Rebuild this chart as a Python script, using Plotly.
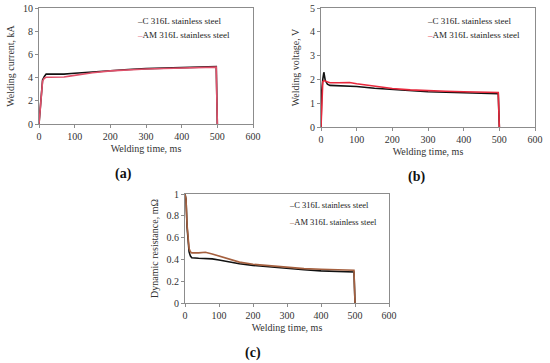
import plotly.graph_objects as go

# ---------------- data ----------------
# (a) welding current, kA
t_current = [0, 3, 6, 10, 15, 20, 30, 50, 70, 90, 120, 150, 200, 250, 300, 350, 400, 450, 497, 500]
current_C = [0, 1.2, 2.8, 3.8, 4.1, 4.3, 4.3, 4.28, 4.3, 4.35, 4.42, 4.5, 4.62, 4.7, 4.77, 4.83, 4.88, 4.92, 4.95, 0]
current_AM = [0, 1.2, 2.8, 3.7, 3.95, 4.03, 4.03, 4.03, 4.05, 4.15, 4.3, 4.42, 4.58, 4.67, 4.74, 4.78, 4.82, 4.86, 4.9, 0]

# (b) welding voltage, V
t_voltage = [0, 2, 5, 8, 12, 18, 25, 50, 80, 100, 150, 200, 250, 300, 350, 400, 450, 497, 500]
voltage_C = [0, 1.5, 2.0, 2.3, 1.95, 1.8, 1.75, 1.73, 1.72, 1.7, 1.63, 1.57, 1.52, 1.48, 1.46, 1.44, 1.42, 1.4, 0]
voltage_AM = [0, 1.3, 1.9, 1.95, 1.93, 1.88, 1.86, 1.86, 1.87, 1.82, 1.72, 1.62, 1.56, 1.52, 1.5, 1.48, 1.47, 1.45, 0]

# (c) dynamic resistance, mOhm
t_resist = [0, 3, 6, 9, 12, 16, 20, 40, 60, 80, 100, 130, 160, 200, 250, 300, 350, 400, 450, 497, 500]
resist_C = [1.0, 0.95, 0.7, 0.55, 0.47, 0.43, 0.415, 0.41, 0.41, 0.405, 0.395, 0.375, 0.36, 0.345, 0.33, 0.315, 0.305, 0.295, 0.29, 0.285, 0]
resist_AM = [1.0, 0.95, 0.72, 0.58, 0.5, 0.47, 0.46, 0.46, 0.465, 0.45, 0.43, 0.4, 0.375, 0.355, 0.34, 0.325, 0.315, 0.31, 0.305, 0.3, 0]

series_names = ["C 316L stainless steel", "AM 316L stainless steel"]
x_ticks = [0, 100, 200, 300, 400, 500, 600]
y_ticks_a = [0, 2, 4, 6, 8, 10]
y_ticks_b = [0, 1, 2, 3, 4, 5]
y_ticks_c = [0, 0.2, 0.4, 0.6, 0.8, 1]

# ---------------- figure ----------------
W, H = 550, 363
SERIF = "Liberation Serif"
AXC = "#8c8c8c"

red_a = "#e0506a"
red_b = "#e8283c"
brown_c = "#a5603f"

fig = go.Figure()
panels = [
    ("x", "y", t_current, current_C, current_AM, red_a),
    ("x2", "y2", t_voltage, voltage_C, voltage_AM, red_b),
    ("x3", "y3", t_resist, resist_C, resist_AM, brown_c),
]
for xa, ya, t, c, am, col in panels:
    fig.add_trace(go.Scatter(x=t, y=c, mode="lines", name=series_names[0], xaxis=xa, yaxis=ya,
                             line=dict(color="#111111", width=1.6), showlegend=False))
    fig.add_trace(go.Scatter(x=t, y=am, mode="lines", name=series_names[1], xaxis=xa, yaxis=ya,
                             line=dict(color=col, width=1.6), showlegend=False))


def px_x(p):
    return p / W


def px_y(p):
    return 1 - p / H


def xaxis(dom, title, standoff, anchor):
    return dict(domain=dom, range=[0, 600], tickvals=x_ticks, showgrid=False, zeroline=False,
                anchor=anchor, automargin=False,
                showline=True, linecolor=AXC, linewidth=1, mirror=True,
                ticks="outside", ticklen=3, tickcolor=AXC,
                tickfont=dict(family=SERIF, size=10, color="#333"),
                title=dict(text=title, font=dict(family=SERIF, size=10, color="#333"), standoff=standoff))


def yaxis(dom, rng, tv, title, standoff, anchor):
    return dict(domain=dom, range=rng, tickvals=tv, showgrid=False, zeroline=False, anchor=anchor,
                automargin=False,
                showline=True, linecolor=AXC, linewidth=1, mirror=True,
                ticks="outside", ticklen=3, tickcolor=AXC,
                tickfont=dict(family=SERIF, size=10, color="#333"),
                title=dict(text=title, font=dict(family=SERIF, size=10, color="#333"), standoff=standoff))


fig.update_layout(
    width=W, height=H, margin=dict(l=0, r=0, t=0, b=0, autoexpand=False),
    paper_bgcolor="white", plot_bgcolor="white", showlegend=False,
    xaxis=xaxis([px_x(39), px_x(253)], "Welding time, ms", 3, "y"),
    yaxis=yaxis([px_y(124), px_y(8)], [0, 10], y_ticks_a, "Welding current, kA", 6, "x"),
    xaxis2=xaxis([px_x(321), px_x(535)], "Welding time, ms", 3, "y2"),
    yaxis2=yaxis([px_y(127), px_y(8)], [0, 5], y_ticks_b, "Welding voltage, V", 8, "x2"),
    xaxis3=xaxis([px_x(185), px_x(389)], "Welding time, ms", 3, "y3"),
    yaxis3=yaxis([px_y(303), px_y(194)], [0, 1], y_ticks_c, "Dynamic resistance, mΩ", 6, "x3"),
)

# legends drawn as text entries with coloured dashes
legend_spec = [
    (135, 21, 35, red_a, 9),
    (425, 21, 35, red_b, 9),
    (287, 205, 222, brown_c, 8.5),
]
for x0, y1, y2, col, fs in legend_spec:
    for yy, name, c in [(y1, series_names[0], "#111111"), (y2, series_names[1], col)]:
        fig.add_annotation(xref="paper", yref="paper", x=px_x(x0), y=px_y(yy), xanchor="left", yanchor="middle",
                           showarrow=False,
                           text=f"<span style='color:{c}'>–</span>{name}",
                           font=dict(family=SERIF, size=fs, color="#222"))

for lbl, x, y in [("(a)", 123, 174), ("(b)", 416, 177), ("(c)", 253, 353)]:
    fig.add_annotation(xref="paper", yref="paper", x=px_x(x), y=px_y(y), xanchor="center", yanchor="middle",
                       showarrow=False, text=f"<b>{lbl}</b>",
                       font=dict(family=SERIF, size=14, color="#111"))

fig.write_html("out.html", config={"displayModeBar": False},
               post_script="document.body.style.margin='0px';")
